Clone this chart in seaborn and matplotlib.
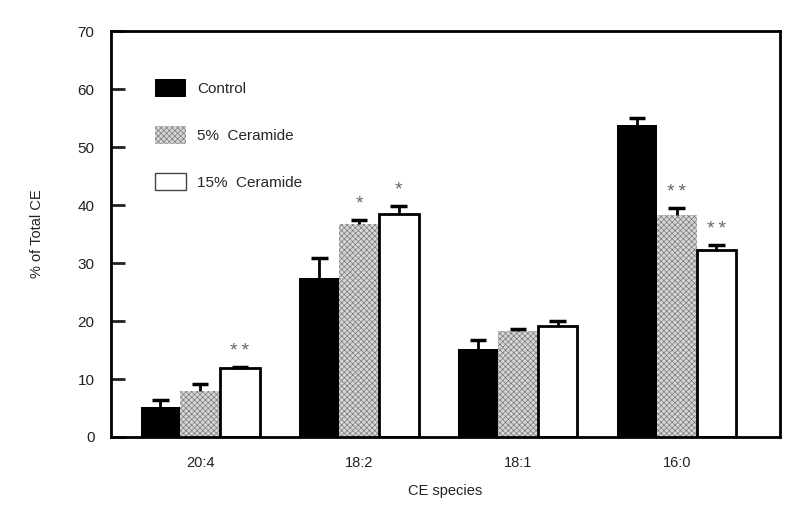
import pandas as pd
import matplotlib.pyplot as plt
from matplotlib.patches import Patch
import seaborn as sns

species = ["20:4", "18:2", "18:1", "16:0"]
groups = ["Control", "5%  Ceramide", "15%  Ceramide"]
control = [5.2, 27.5, 15.1, 53.8]
cer5 = [8.0, 36.8, 18.2, 38.3]
cer15 = [11.95, 38.4, 19.2, 32.2]
control_err = [1.2, 3.4, 1.6, 1.3]
cer5_err = [1.1, 0.7, 0.5, 1.2]
cer15_err = [0.1, 1.5, 0.8, 1.0]
stars5 = ["", "*", "", "**"]
stars15 = ["**", "*", "", "**"]

sns.set_style("ticks")
plt.rcParams["font.family"] = ["Liberation Sans", "DejaVu Sans"]
plt.rcParams["hatch.color"] = "#7a7a7a"
plt.rcParams["hatch.linewidth"] = 0.5

df = pd.DataFrame({
    "species": species * 3,
    "group": [groups[0]] * 4 + [groups[1]] * 4 + [groups[2]] * 4,
    "value": control + cer5 + cer15,
})
errs = [control_err, cer5_err, cer15_err]
stars = [["", "", "", ""], stars5, stars15]

fig = plt.figure(figsize=(8, 5.19), dpi=100)
ax = fig.add_axes([0.139, 0.158, 0.836, 0.782])

sns.barplot(data=df, x="species", y="value", hue="group", order=species,
            hue_order=groups, palette=["black", "#d6d6d6", "white"],
            width=0.75, errorbar=None, legend=False, ax=ax)

styles = [
    dict(edgecolor="black", linewidth=0, hatch=None),
    dict(edgecolor="#7a7a7a", linewidth=0, hatch="xxxxxx"),
    dict(edgecolor="black", linewidth=2, hatch=None),
]
# take the bar containers first, errorbar/vlines calls below add more artists
bar_containers = list(ax.containers)[:3]
for gi, cont in enumerate(bar_containers):
    for bi, bar in enumerate(cont.patches):
        bar.set_edgecolor(styles[gi]["edgecolor"])
        bar.set_linewidth(styles[gi]["linewidth"])
        if styles[gi]["hatch"]:
            bar.set_hatch(styles[gi]["hatch"])
        xc = bar.get_x() + bar.get_width() / 2
        h = bar.get_height()
        e = errs[gi][bi]
        ax.vlines(xc, h, h + e, color="black", linewidth=2, zorder=1)
        ax.hlines(h + e, xc - 0.052, xc + 0.052, color="black", linewidth=2.5, zorder=1)
        if stars[gi][bi]:
            ax.text(xc, h + e + 1.2, "\u2009".join(stars[gi][bi]), ha="center",
                    va="bottom", fontsize=14, color="#666666")

ax.set_ylim(0, 70)
ax.set_xlim(-0.56, 3.65)
ax.set_yticks(range(0, 71, 10))
ax.tick_params(axis="y", direction="in", length=10, width=2, labelsize=11, pad=12,
               colors="#222222")
ax.tick_params(axis="x", length=0, labelsize=10.5, pad=14, colors="#222222")
for side in ["left", "right", "top", "bottom"]:
    ax.spines[side].set_visible(True)
    ax.spines[side].set_linewidth(2)
    ax.spines[side].set_color("black")

ax.set_xlabel("CE species", fontsize=10.5, color="#222222", labelpad=10)
ax.set_ylabel("% of Total CE", fontsize=10.5, color="#222222", labelpad=24)

handles = [
    Patch(facecolor="black", edgecolor="black", linewidth=0),
    Patch(facecolor="#d6d6d6", edgecolor="#7a7a7a", hatch="xxxxxx", linewidth=0),
    Patch(facecolor="white", edgecolor="#444444", linewidth=1),
]
ax.legend(handles, groups, loc="upper left", bbox_to_anchor=(0.045, 0.915),
          frameon=False, fontsize=11, handlelength=2.0, handleheight=1.4,
          labelspacing=1.9, handletextpad=0.75)

fig.savefig("out.png", dpi=100)
